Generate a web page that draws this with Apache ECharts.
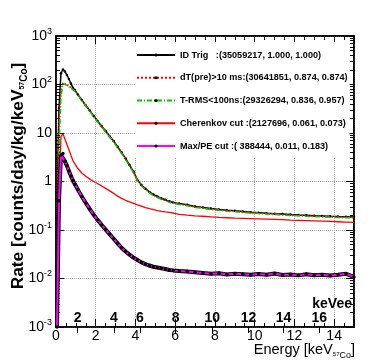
<!DOCTYPE html>
<html><head><meta charset="utf-8">
<script src="https://cdn.jsdelivr.net/npm/echarts@6/dist/echarts.min.js"></script>
<style>html,body{margin:0;padding:0;background:#fff}#c{width:374px;height:363px}</style>
</head><body><div id="c"></div>
<script>
const energy = [0.05,0.15,0.25,0.35,0.45,0.55,0.65,0.75,0.85,0.95,
1.1,1.3,1.5,1.7,1.9,2.1,2.3,2.5,2.7,2.9,3.1,3.3,3.5,3.7,3.9,4.1,4.3,4.5,4.7,4.9,5.1,5.3,5.5,5.7,5.9,
6.2,6.6,7.0,7.4,7.8,8.2,8.6,9.0,9.4,9.8,10.2,10.6,11.0,11.4,11.8,12.2,12.6,13.0,13.4,13.8,14.2,14.6,15.0];

const idTrig = [0.41,33,170,205,185,157,130,105,86,77,
62,48,37,29,22.5,17.5,13.8,11,8.6,6.8,5.2,4.0,3.0,2.2,1.6,1.08,0.85,0.71,0.61,0.54,0.49,0.45,0.42,0.39,0.37,
0.35,0.33,0.305,0.29,0.276,0.265,0.256,0.248,0.241,0.233,0.228,0.222,0.217,0.213,0.208,0.204,0.201,0.197,0.194,0.191,0.189,0.188,0.185];

const dTpre = [0.3,20,70,108,106,99,92,86,81,74,
61,47.5,36.5,28.5,22,17.2,13.6,10.8,8.5,6.7,5.1,3.9,2.95,2.15,1.57,1.06,0.84,0.7,0.6,0.53,0.48,0.445,0.415,0.385,0.365,
0.345,0.325,0.3,0.286,0.271,0.261,0.252,0.245,0.237,0.23,0.224,0.219,0.214,0.209,0.205,0.201,0.197,0.194,0.191,0.188,0.186,0.184,0.182];

const tRms = [0.02,5,55,104,103,96,90,84,79,72,
60,46,36,28,21.5,16.8,13.2,10.5,8.2,6.5,5.0,3.8,2.85,2.1,1.52,1.03,0.81,0.68,0.58,0.515,0.465,0.43,0.4,0.375,0.355,
0.335,0.315,0.293,0.278,0.264,0.254,0.245,0.238,0.23,0.224,0.218,0.213,0.208,0.203,0.2,0.196,0.192,0.189,0.186,0.183,0.181,0.179,0.177];

const cherenkov = [0.002,0.5,8.5,9.6,7.5,5.8,4.5,3.5,2.7,2.3,
1.85,1.5,1.28,1.12,1.0,0.9,0.81,0.72,0.64,0.57,0.5,0.45,0.41,0.38,0.355,0.33,0.31,0.29,0.275,0.262,0.252,0.243,0.236,0.23,0.224,
0.21,0.202,0.196,0.192,0.187,0.182,0.179,0.176,0.174,0.172,0.17,0.168,0.166,0.163,0.16,0.158,0.156,0.154,0.152,0.15,0.148,0.146,0.144];

const maxPE = [0.001,0.4,3.5,3.8,2.6,2.1,1.65,1.3,1.05,0.88,
0.68,0.49,0.36,0.27,0.205,0.16,0.127,0.102,0.082,0.066,0.053,0.043,0.036,0.031,0.027,0.024,0.0215,0.0198,0.0185,0.0175,0.0168,0.0162,0.0157,0.015,0.0147,
0.0143,0.0139,0.0135,0.013,0.0126,0.0128,0.0121,0.0125,0.0122,0.0119,0.0124,0.012,0.0127,0.0118,0.0121,0.0116,0.0122,0.0117,0.012,0.0115,0.0119,0.0125,0.0108];

const legendNames = [
  'ID Trig   :(35059217, 1.000, 1.000)',
  'dT(pre)>10 ms:(30641851, 0.874, 0.874)',
  'T-RMS<100ns:(29326294, 0.836, 0.957)',
  'Cherenkov cut :(2127696, 0.061, 0.073)',
  'Max/PE cut :( 388444, 0.011, 0.183)'
];
const xTicks = [0,2,4,6,8,10,12,14];
const xTickLabels = ['0','2','4','6','8','10','12','14'];
const keVeePos = [1.09,2.91,4.22,6.02,7.87,9.69,11.45,13.25];
const keVeeLabels = ['2','4','6','8','10','12','14','16'];

const FONT = '"Liberation Sans", Arial, Helvetica, sans-serif';
function pairs(ys){ return energy.map((x,i)=>[x, ys[i]]); }

const chart = echarts.init(document.getElementById('c'), null, {renderer:'canvas'});

const gridRect = {left:56, right:20, top:36, bottom:36};
const supRich = {
  b:{fontSize:14, color:'#000', fontFamily:FONT, lineHeight:18},
  s:{fontSize:9, color:'#000', fontFamily:FONT, verticalAlign:'top', lineHeight:10}
};

chart.setOption({
  animation:false,
  backgroundColor:'#fff',
  grid:[
    Object.assign({show:true, borderColor:'#000', borderWidth:1.5, backgroundColor:'transparent'}, gridRect),
    Object.assign({show:false}, gridRect)
  ],
  legend:{
    data:legendNames, orient:'vertical', left:135, top:42,
    padding:[7,2,6,1], backgroundColor:'#fff',
    itemWidth:38, itemHeight:4, itemGap:10.75,
    textStyle:{fontSize:9.1, fontWeight:'bold', color:'#000', fontFamily:FONT, lineHeight:12},
    selectedMode:false
  },
  xAxis:[
    {
      type:'value', min:0, max:15, interval:2, gridIndex:0, position:'bottom',
      axisLine:{show:true, onZero:false, lineStyle:{color:'#000', width:1.5}},
      axisTick:{show:true, inside:true, length:8, lineStyle:{color:'#000'}},
      minorTick:{show:true, splitNumber:4, length:4, lineStyle:{color:'#000'}},
      splitLine:{show:true, lineStyle:{color:'#aaa', type:'dotted'}},
      axisLabel:{show:false}
    },
    {
      type:'value', min:0, max:15, interval:2, gridIndex:0, position:'top',
      axisLine:{show:true, onZero:false, lineStyle:{color:'#000', width:1.5}},
      axisTick:{show:true, inside:true, length:8, lineStyle:{color:'#000'}},
      minorTick:{show:true, splitNumber:4, length:4, lineStyle:{color:'#000'}},
      splitLine:{show:false}, axisLabel:{show:false}
    },
    {
      type:'value', min:0, max:15, gridIndex:1, position:'bottom',
      axisLine:{show:false, onZero:false},
      axisTick:{show:true, inside:false, length:6, customValues:keVeePos, lineStyle:{color:'#000'}},
      splitLine:{show:false},
      axisLabel:{show:true, inside:true, customValues:keVeePos, margin:2, color:'#000', fontSize:14, fontWeight:'bold', fontFamily:FONT,
        formatter:v => { const i = keVeePos.findIndex(p => Math.abs(p - v) < 1e-6); return i >= 0 ? keVeeLabels[i] : ''; }}
    }
  ],
  yAxis:[
    {
      type:'log', logBase:10, min:0.001, max:1000, gridIndex:0, position:'left',
      axisLine:{show:true, onZero:false, lineStyle:{color:'#000', width:1.5}},
      axisTick:{show:true, inside:true, length:8, lineStyle:{color:'#000'}},
      minorTick:{show:true, splitNumber:9, length:4, lineStyle:{color:'#000'}},
      splitLine:{show:true, lineStyle:{color:'#aaa', type:'dotted'}},
      axisLabel:{margin:4, rich:supRich,
        formatter:v => { const e = Math.round(Math.log10(v)); if (e === 0) return '{b|1}'; if (e === 1) return '{b|10}'; return '{b|10}{s|' + e + '}'; }}
    },
    {
      type:'log', logBase:10, min:0.001, max:1000, gridIndex:0, position:'right',
      axisLine:{show:true, onZero:false, lineStyle:{color:'#000', width:1.5}},
      axisTick:{show:true, inside:true, length:8, lineStyle:{color:'#000'}},
      minorTick:{show:true, splitNumber:9, length:4, lineStyle:{color:'#000'}},
      splitLine:{show:false}, axisLabel:{show:false}
    },
    {type:'value', min:0, max:1, gridIndex:1, show:false}
  ],
  series:[
    {name:legendNames[0], type:'line', data:pairs(idTrig), symbol:'circle', symbolSize:2.5, showAllSymbol:true,
      itemStyle:{color:'#000'}, lineStyle:{color:'#000', width:1.5}, z:2},
    {name:legendNames[1], type:'line', data:pairs(dTpre), symbol:'none',
      itemStyle:{color:'#000'}, lineStyle:{color:'#ff0000', width:1.5, type:'dotted'}, z:3},
    {name:legendNames[2], type:'line', data:pairs(tRms), symbol:'none',
      itemStyle:{color:'#000'}, lineStyle:{color:'#00cc00', width:1.5, type:[5,2,1,2]}, z:4},
    {name:legendNames[3], type:'line', data:pairs(cherenkov), symbol:'none',
      itemStyle:{color:'#000'}, lineStyle:{color:'#ff0000', width:1.3}, z:5},
    {name:'_outline', type:'line', data:pairs(maxPE), symbol:'none', silent:true,
      lineStyle:{color:'#000', width:4}, z:6},
    {name:legendNames[4], type:'line', data:pairs(maxPE), symbol:'circle', symbolSize:3.5, showAllSymbol:true,
      itemStyle:{color:'#000'}, lineStyle:{color:'#ff00ff', width:2}, z:7}
  ]
});

// Bottom tick labels placed through the x axis scale of the library
const bottomY = chart.convertToPixel({yAxisIndex:0}, 0.001);
const tickLabelGraphics = xTicks.map((v, i) => ({
  type:'text', z:100,
  x: chart.convertToPixel({xAxisIndex:0}, v),
  y: bottomY + 9,
  style:{text:xTickLabels[i], align:'center', verticalAlign:'middle', fill:'#000', fontSize:14, fontFamily:FONT}
}));

chart.setOption({
  graphic: tickLabelGraphics.concat([
    {type:'text', x:18, y:176, rotation:Math.PI/2, z:100,
      style:{text:'{m|Rate [counts/day/kg/keV}{a|57}{c|Co}{m|]}', align:'center', verticalAlign:'middle', fill:'#000',
        rich:{m:{fontSize:17.3, fontWeight:'bold', fontFamily:FONT, fill:'#000', lineHeight:22},
              a:{fontSize:7, fontWeight:'bold', fontFamily:FONT, fill:'#000', verticalAlign:'bottom', padding:[0,0,3,0]},
              c:{fontSize:10, fontWeight:'bold', fontFamily:FONT, fill:'#000', verticalAlign:'bottom'}}}},
    {type:'text', x:355, y:350, z:100,
      style:{text:'{m|Energy [keV}{a|57}{c|Co}{m|]}', align:'right', verticalAlign:'middle', fill:'#000',
        rich:{m:{fontSize:14.5, fontFamily:FONT, fill:'#000', lineHeight:20},
              a:{fontSize:6, fontFamily:FONT, fill:'#000', verticalAlign:'bottom', padding:[0,0,3,0]},
              c:{fontSize:9, fontFamily:FONT, fill:'#000', verticalAlign:'bottom'}}}},
    {type:'text', x:352, y:304, z:100,
      style:{text:'keVee', align:'right', verticalAlign:'middle', fill:'#000', fontSize:14, fontWeight:'bold', fontFamily:FONT}}
  ])
});
</script></body></html>
